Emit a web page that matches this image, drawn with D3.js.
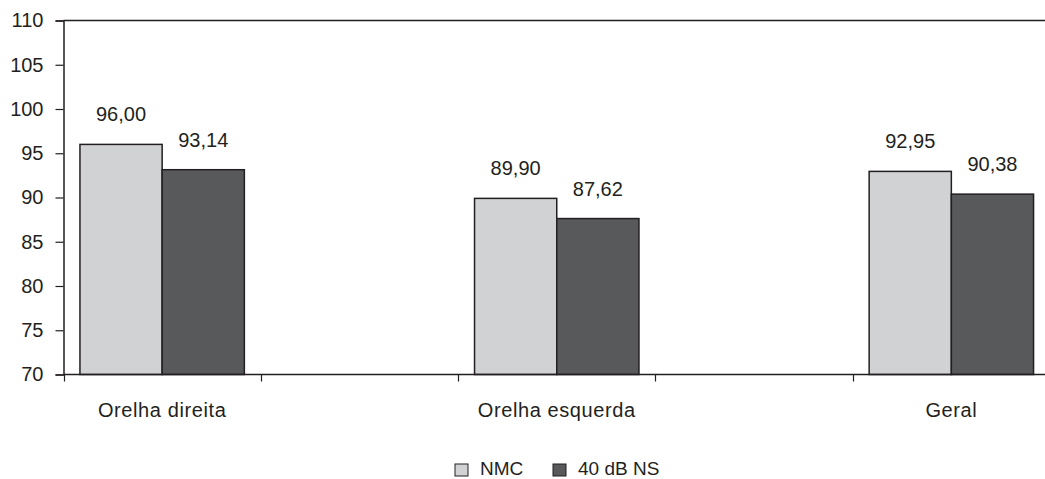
<html>
  <head>
    <meta charset="UTF-8" />
    <script src="https://cdnjs.cloudflare.com/ajax/libs/d3/7.8.5/d3.min.js"></script>
    <style>
      body { margin: 0; background: #fff; }
      text { font-family: "Liberation Sans", Arial, sans-serif; fill: #231f20; }
    </style>
  </head>
  <body>
    <svg id="chart" width="1045" height="479"></svg>
    <script>
      // data
      const categories = ["Orelha direita", "Orelha esquerda", "Geral"];
      const series = ["NMC", "40 dB NS"];
      const nmc = [96.0, 89.9, 92.95];
      const ns40 = [93.14, 87.62, 90.38];
      const yTicks = [70, 75, 80, 85, 90, 95, 100, 105, 110];
      const colors = ["#d1d2d4", "#58595b"];

      // the original has empty slots between the groups
      const slots = ["Orelha direita", "_a", "Orelha esquerda", "_b", "Geral"];

      const svg = d3.select("#chart");
      const plotL = 63.5, plotR = 1050, plotT = 20.5, plotB = 374.5;

      const x = d3.scaleBand().domain(slots).range([plotL, plotR]);
      const xs = d3.scaleBand().domain(series).range([0, x.bandwidth()]).paddingOuter(0.2);
      const y = d3.scaleLinear().domain([70, 110]).range([plotB, plotT]);

      const fmt = v => v.toFixed(2).replace(".", ",");

      // top border
      svg.append("line")
        .attr("x1", plotL).attr("x2", 1045)
        .attr("y1", plotT).attr("y2", plotT)
        .style("stroke", "#231f20").style("stroke-width", 1.5);

      const rows = categories.map((c, i) => ({ cat: c, vals: [nmc[i], ns40[i]] }));

      const g = svg.selectAll(".grp")
        .data(rows)
        .enter()
        .append("g")
        .attr("class", "grp")
        .attr("transform", d => `translate(${x(d.cat)},0)`);

      g.selectAll("rect")
        .data(d => d.vals.map((v, j) => ({ s: series[j], v: v, j: j })))
        .enter()
        .append("rect")
        .attr("x", d => xs(d.s))
        .attr("width", xs.bandwidth())
        .attr("y", d => y(d.v))
        .attr("height", d => y(70) - y(d.v))
        .style("fill", d => colors[d.j])
        .style("stroke", "#231f20")
        .style("stroke-width", 1.5);

      g.selectAll(".val")
        .data(d => d.vals.map((v, j) => ({ s: series[j], v: v })))
        .enter()
        .append("text")
        .attr("class", "val")
        .attr("x", d => xs(d.s) + xs.bandwidth() / 2)
        .attr("y", d => y(d.v) - 23)
        .attr("text-anchor", "middle")
        .style("font-size", "20px")
        .text(d => fmt(d.v));

      // y axis
      const yAxis = svg.append("g")
        .attr("transform", `translate(${plotL},0)`)
        .call(d3.axisLeft(y).tickValues(yTicks).tickSize(8).tickPadding(12));
      yAxis.select(".domain").style("stroke", "#231f20").style("stroke-width", 1.5);
      yAxis.selectAll(".tick line").style("stroke", "#231f20").style("stroke-width", 1.2);
      yAxis.selectAll(".tick text")
        .style("font-size", "20px")
        .style("fill", "#231f20")
        .attr("font-family", null);

      // x axis baseline and ticks between slots
      svg.append("line")
        .attr("x1", plotL).attr("x2", 1045)
        .attr("y1", plotB).attr("y2", plotB)
        .style("stroke", "#231f20").style("stroke-width", 1.5);

      const bounds = slots.map(s => x(s)).concat([plotR]);
      svg.selectAll(".xtick")
        .data(bounds)
        .enter()
        .append("line")
        .attr("class", "xtick")
        .attr("x1", d => Math.round(d) + 0.5).attr("x2", d => Math.round(d) + 0.5)
        .attr("y1", plotB).attr("y2", plotB + 7)
        .style("stroke", "#231f20").style("stroke-width", 1.2);

      svg.selectAll(".xlab")
        .data(categories)
        .enter()
        .append("text")
        .attr("class", "xlab")
        .attr("x", d => x(d) + x.bandwidth() / 2)
        .attr("y", 417)
        .attr("text-anchor", "middle")
        .style("font-size", "20px")
        .style("letter-spacing", "0.6px")
        .text(d => d);

      // legend
      const legX = [455, 553];
      const leg = svg.selectAll(".leg")
        .data(series)
        .enter()
        .append("g")
        .attr("class", "leg")
        .attr("transform", (d, i) => `translate(${legX[i]},464)`);
      leg.append("rect")
        .attr("width", 13).attr("height", 12)
        .style("fill", (d, i) => colors[i])
        .style("stroke", "#231f20").style("stroke-width", 1);
      leg.append("text")
        .attr("x", 25).attr("y", 11)
        .style("font-size", "19px")
        .text(d => d);
    </script>
  </body>
</html>
